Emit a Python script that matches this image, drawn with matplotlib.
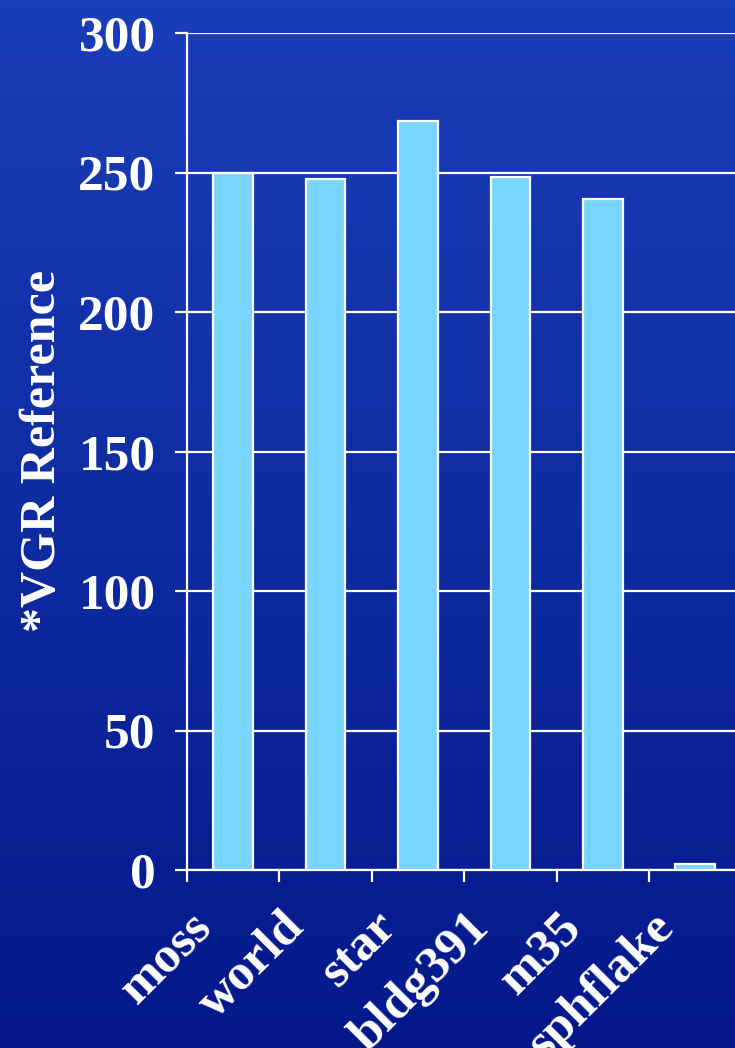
import matplotlib.pyplot as plt
import matplotlib.transforms as mtransforms
import numpy as np

# data
scenes = ["moss", "world", "star", "bldg391", "m35", "sphflake"]
values = [250, 247.5, 268.5, 248.5, 240.5, 2]
y_ticks = [0, 50, 100, 150, 200, 250, 300]

plt.rcParams['font.family'] = ['Liberation Serif', 'DejaVu Serif']
plt.rcParams['font.weight'] = 'bold'
plt.rcParams['axes.labelweight'] = 'bold'

fig = plt.figure(figsize=(7.35, 10.48), dpi=100)

# blue gradient background
bg = fig.add_axes([0, 0, 1, 1], zorder=-10)
top = np.array([0x1a, 0x3e, 0xb8]) / 255
bottom = np.array([0x04, 0x18, 0x8a]) / 255
t = np.linspace(0, 1, 256)[:, None]
grad = top * (1 - t) + bottom * t
bg.imshow(grad[:, None, :], aspect='auto', extent=[0, 1, 0, 1])
bg.set_axis_off()

ax = fig.add_axes([187 / 735, 1 - 870 / 1048, 1 - 187 / 735, (870 - 33) / 1048])
ax.patch.set_alpha(0)

x = np.arange(len(scenes))
ax.bar(x, values, width=0.43, color='#78d5ff', edgecolor='white', linewidth=1.6, zorder=3)

ax.set_yticks(y_ticks)
ax.yaxis.grid(True, color='white', linewidth=1.6, zorder=0)
ax.set_axisbelow(True)

for s in ['top', 'right']:
    ax.spines[s].set_visible(False)
for s in ['left', 'bottom']:
    ax.spines[s].set_color('white')
    ax.spines[s].set_linewidth(1.6)

ax.tick_params(axis='y', colors='white', length=8.6, width=1.6, pad=14, labelsize=37)

# category boundaries get the tick marks, centers get the labels
ax.set_xticks(np.arange(len(scenes) + 1) - 0.5, minor=True)
ax.set_xticks(x, labels=scenes, rotation=45, ha='right', va='top')
ax.tick_params(axis='x', which='minor', colors='white', length=8.6, width=1.6)
ax.tick_params(axis='x', which='major', length=0, pad=24.5, labelsize=37, labelcolor='white')
offset = mtransforms.ScaledTranslation(-0.12, 0, fig.dpi_scale_trans)
for lab in ax.get_xticklabels():
    lab.set_transform(lab.get_transform() + offset)

# limits after the ticks, so the last boundary tick does not widen the view
ax.set_ylim(0, 300)
ax.set_xlim(-0.5, -0.5 + 548 / 92.4)

ax.set_ylabel("*VGR Reference", color='white', fontsize=36)
ax.yaxis.set_label_coords(-(187 - 66) / 548, 0.5)

fig.savefig("out.png", dpi=100)
